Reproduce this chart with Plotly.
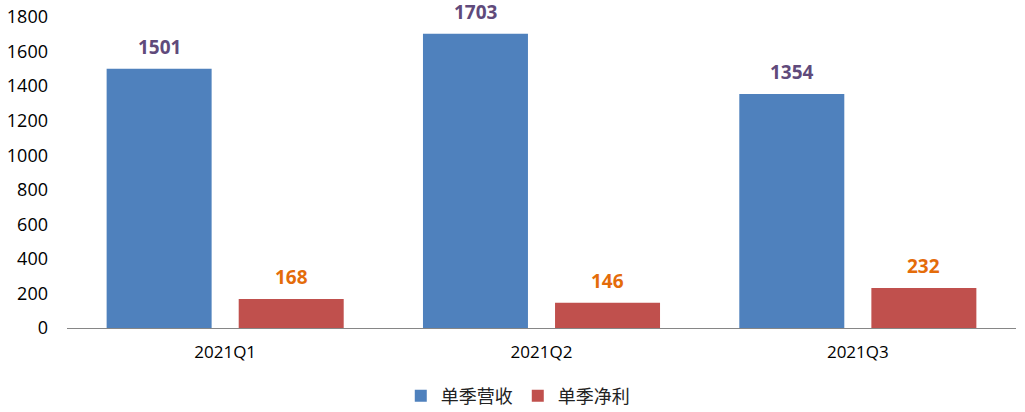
import plotly.graph_objects as go

categories = ["2021Q1", "2021Q2", "2021Q3"]
revenue = [1501, 1703, 1354]
profit = [168, 146, 232]
series_names = ["单季营收", "单季净利"]
y_ticks = [0, 200, 400, 600, 800, 1000, 1200, 1400, 1600, 1800]

blue = "#4F81BD"
red = "#C0504D"
label_purple = "#604A7B"
label_orange = "#E46C0A"

fig = go.Figure()
fig.add_trace(go.Bar(x=categories, y=revenue, name=series_names[0], marker_color=blue,
                     marker_line_width=0))
fig.add_trace(go.Bar(x=categories, y=profit, name=series_names[1], marker_color=red,
                     marker_line_width=0))

annotations = []
for i, c in enumerate(categories):
    for vals, off, col in ((revenue, -0.5, label_purple), (profit, 0.5, label_orange)):
        annotations.append(dict(
            x=c, y=vals[i], xref="x", yref="y", text=str(vals[i]), showarrow=False,
            yanchor="bottom", yshift=7, xshift=off * 132,
            font=dict(family="Open Sans", size=19, color=col, weight="bold")))

fig.update_layout(
    width=1025, height=412,
    margin=dict(l=67, r=9, t=17, b=84, autoexpand=False),
    paper_bgcolor="white", plot_bgcolor="white",
    barmode="group", bargap=0.165, bargroupgap=0.205,
    font=dict(family="Open Sans", size=16, color="#000000"),
    showlegend=True,
    legend=dict(orientation="h", x=0.475, xanchor="center", yref="container",
                y=0.039, yanchor="middle",
                font=dict(family="Noto Sans CJK SC", size=18, color="#222222"),
                itemwidth=30, tracegroupgap=0),
    annotations=annotations,
    xaxis=dict(showgrid=False, showline=True, linecolor="#868686", linewidth=1,
               ticks="", ticklabelstandoff=9, tickfont=dict(size=17), automargin=False),
    yaxis=dict(range=[0, 1800], tickvals=y_ticks, showgrid=False, showline=False,
               zeroline=False, ticks="", ticklabelstandoff=18, tickfont=dict(size=18),
               automargin=False),
)

fig.write_html("out.html", config={"displayModeBar": False},
               post_script="document.body.style.margin='0';document.body.style.overflow='hidden';")
